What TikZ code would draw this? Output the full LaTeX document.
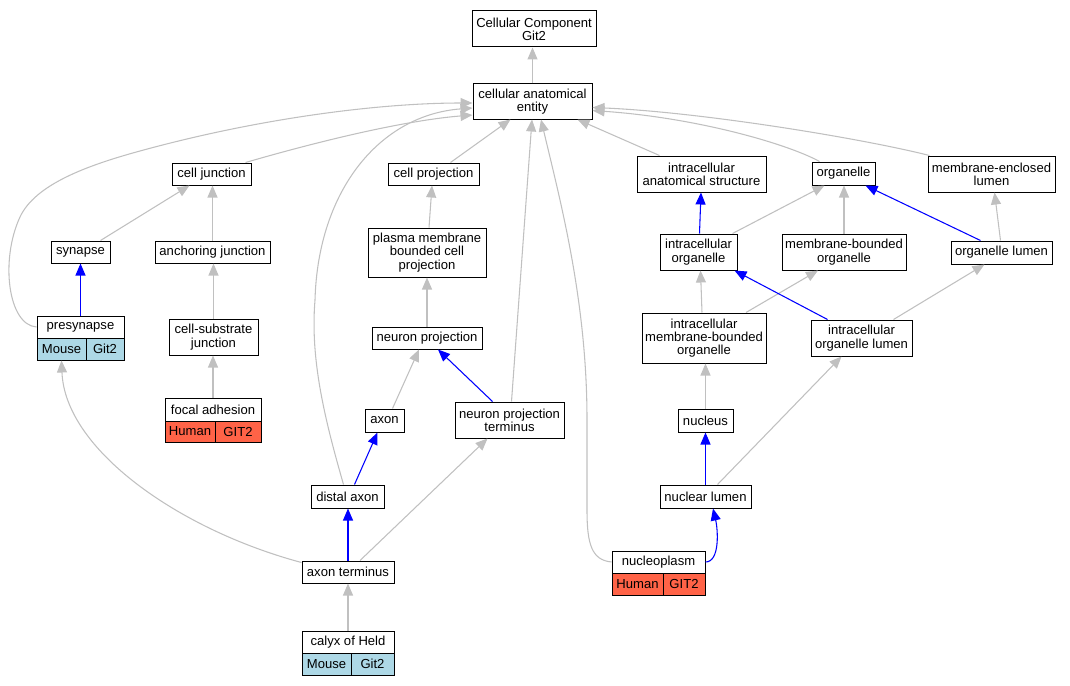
\documentclass[tikz,border=0pt]{standalone}
\usepackage{fontspec}
\setmainfont{Liberation Sans}
\usetikzlibrary{arrows.meta,calc}
\definecolor{edgegray}{HTML}{C0C0C0}
\definecolor{mouseblue}{HTML}{ADD8E6}
\definecolor{humanred}{HTML}{FF6347}
\begin{document}
\begin{tikzpicture}[x=0.75pt,y=-0.75pt,
  box/.style={draw=black,line width=0.75pt,fill=white,inner sep=0pt,align=center,font=\fontsize{9.8}{10}\selectfont},
  sz/.style 2 args={minimum width=#1*0.75pt,minimum height=#2*0.75pt},
  ge/.style={draw=edgegray,line width=0.8pt,-{Triangle[length=9pt,width=7.5pt]}},
  be/.style={draw=blue,line width=0.8pt,-{Triangle[length=9pt,width=7.5pt]}},
  mouse/.style={box,fill=mouseblue},
  human/.style={box,fill=humanred}]
\useasboundingbox (0,0) rectangle (1070,685);

% nodes
\node[box,sz={124}{36}] (CC) at (534,29) {Cellular Component\\Git2};
\node[box,sz={119}{35}] (CAE) at (532.5,101.5) {cellular anatomical\\entity};
\node[box,sz={79}{22}] (cj) at (211.5,174) {cell junction};
\node[box,sz={91}{22}] (cp) at (433.5,174) {cell projection};
\node[box,sz={129}{36}] (IAS) at (701.5,174) {intracellular\\anatomical structure};
\node[box,sz={63}{23}] (org) at (843.5,173.5) {organelle};
\node[box,sz={127}{36}] (MEL) at (991.5,174) {membrane-enclosed\\lumen};
\node[box,sz={59}{22}] (syn) at (80.5,252) {synapse};
\node[box,sz={115}{22}] (aj) at (212.5,252) {anchoring junction};
\node[box,sz={118}{49}] (pmbcp) at (427,252.5) {plasma membrane\\bounded cell\\projection};
\node[box,sz={77}{36}] (IO) at (698.5,252) {intracellular\\organelle};
\node[box,sz={124}{36}] (MBO) at (844,252) {membrane-bounded\\organelle};
\node[box,sz={101}{23}] (OL) at (1001.5,252.5) {organelle lumen};
\node[box,sz={87}{22}] (presyn) at (80.5,327) {presynapse};
\node[mouse,sz={49}{22}] (presynA) at (61.5,349) {Mouse};
\node[mouse,sz={38}{22}] (presynB) at (105,349) {Git2};
\node[box,sz={89}{36}] (csj) at (213.5,337) {cell-substrate\\junction};
\node[box,sz={110}{22}] (np) at (427,338) {neuron projection};
\node[box,sz={124}{50}] (IMBO) at (704,338) {intracellular\\membrane-bounded\\organelle};
\node[box,sz={101}{36}] (IOL) at (861.5,338) {intracellular\\organelle lumen};
\node[box,sz={96}{23}] (fa) at (213,409.5) {focal adhesion};
\node[human,sz={50}{21}] (faA) at (190,431.5) {Human};
\node[human,sz={46}{21}] (faB) at (238,431.5) {GIT2};
\node[box,sz={39}{23}] (axon) at (384.5,420.5) {axon};
\node[box,sz={109}{36}] (NPT) at (509.5,420) {neuron projection\\terminus};
\node[box,sz={55}{23}] (nucleus) at (705.5,420.5) {nucleus};
\node[box,sz={73}{23}] (dax) at (347.5,496.5) {distal axon};
\node[box,sz={91}{23}] (NL) at (705.5,496.5) {nuclear lumen};
\node[box,sz={92}{22}] (AT) at (348,572) {axon terminus};
\node[box,sz={93}{22}] (nucp) at (658.5,562) {nucleoplasm};
\node[human,sz={51}{22}] (nucpA) at (637.5,584) {Human};
\node[human,sz={42}{22}] (nucpB) at (684,584) {GIT2};
\node[box,sz={92}{22}] (calyx) at (348,642) {calyx of Held};
\node[mouse,sz={49}{22}] (calyxA) at (326.5,664) {Mouse};
\node[mouse,sz={43}{22}] (calyxB) at (372.5,664) {Git2};

% edges
\draw[ge] (CAE.north) -- (CAE.north |- CC.south);
\draw[ge] ($(cj.north)+(34,0)$) .. controls (330,138) and (410,120) .. ($(CAE.west)+(0,13.5)$);
\draw[ge] (presyn.west) .. controls (8,325) and (0,260) .. (20,217)
  .. controls (35,185) and (85,166) .. (140,151)
  .. controls (260,118) and (380,103) .. ($(CAE.west)+(0,1.5)$);
\draw[ge] ($(syn.north)+(20,0)$) -- ($(cj.south)+(-22,0)$);
\draw[ge] (aj.north) -- (aj.north |- cj.south);
\draw[be] (presyn.north) -- (syn.south);
\draw[ge] (csj.north) -- (csj.north |- aj.south);
\draw[ge] (fa.north) -- (fa.north |- csj.south);
\draw[ge] ($(AT.north west)+(0,2)$) .. controls (180,530) and (65,450) .. (presynA.south);
\draw[ge] ($(cp.north)+(17,0)$) -- ($(CAE.south)+(-22,0)$);
\draw[ge] ($(pmbcp.north)+(2,0)$) -- ($(cp.south)+(-1.5,0)$);
\draw[ge] (np.north) -- (pmbcp.south);
\draw[ge] ($(axon.north)+(8,0)$) -- ($(np.south)+(-8,0)$);
\draw[be] ($(NPT.north)+(-17,0)$) -- ($(np.south)+(11,0)$);
\draw[ge] ($(NPT.north)+(2,0)$) -- ($(CAE.south)+(-0.5,0)$);
\draw[ge] ($(dax.north)+(-4,0)$) .. controls (325,420) and (310,360) .. (315,300)
  .. controls (318,190) and (380,115) .. ($(CAE.west)+(0,6.5)$);
\draw[be] ($(dax.north)+(7,0)$) -- ($(axon.south)+(-7,0)$);
\draw[be] (AT.north) -- (AT.north |- dax.south);
\draw[ge] ($(AT.north)+(12,0)$) -- ($(NPT.south)+(-22,0)$);
\draw[ge] (calyx.north) -- (AT.south);
\draw[ge] (nucp.west) .. controls (592,560) and (587,545) .. (587,510) -- (587,420)
  .. controls (587,300) and (560,200) .. ($(CAE.south)+(8.5,0)$);
\draw[be] (nucp.east) .. controls (720,562) and (718,530) .. ($(NL.south)+(7.5,0)$);
\draw[be] (NL.north) -- (nucleus.south);
\draw[ge] ($(NL.north)+(12,0)$) -- ($(IOL.south)+(-20,0)$);
\draw[ge] (nucleus.north) -- (nucleus.north |- IMBO.south);
\draw[ge] ($(IMBO.north)+(-2,0)$) -- ($(IO.south)+(2,0)$);
\draw[ge] ($(IMBO.north)+(42,0)$) -- ($(MBO.south)+(-26,0)$);
\draw[be] ($(IOL.north)+(-34,0)$) -- ($(IO.south)+(36,0)$);
\draw[ge] ($(IOL.north)+(32,0)$) -- ($(OL.south)+(-17,0)$);
\draw[be] ($(IO.north)+(1,0)$) -- ($(IAS.south)+(-0.5,0)$);
\draw[ge] ($(IO.north)+(34,0)$) -- ($(org.south)+(-19,0)$);
\draw[ge] (MBO.north) -- (MBO.north |- org.south);
\draw[be] ($(OL.north)+(-21,0)$) -- ($(org.south)+(22,0)$);
\draw[ge] ($(OL.north)+(-1,0)$) -- ($(MEL.south)+(3,0)$);
\draw[ge] ($(IAS.north)+(-42,0)$) -- ($(CAE.south)+(45,0)$);
\draw[ge] ($(org.north)+(-24,0)$) .. controls (790,145) and (700,118) .. ($(CAE.east)+(0,9)$);
\draw[ge] ($(MEL.north)+(-62,0)$) .. controls (860,138) and (700,112) .. ($(CAE.east)+(0,6)$);
\end{tikzpicture}
\end{document}
